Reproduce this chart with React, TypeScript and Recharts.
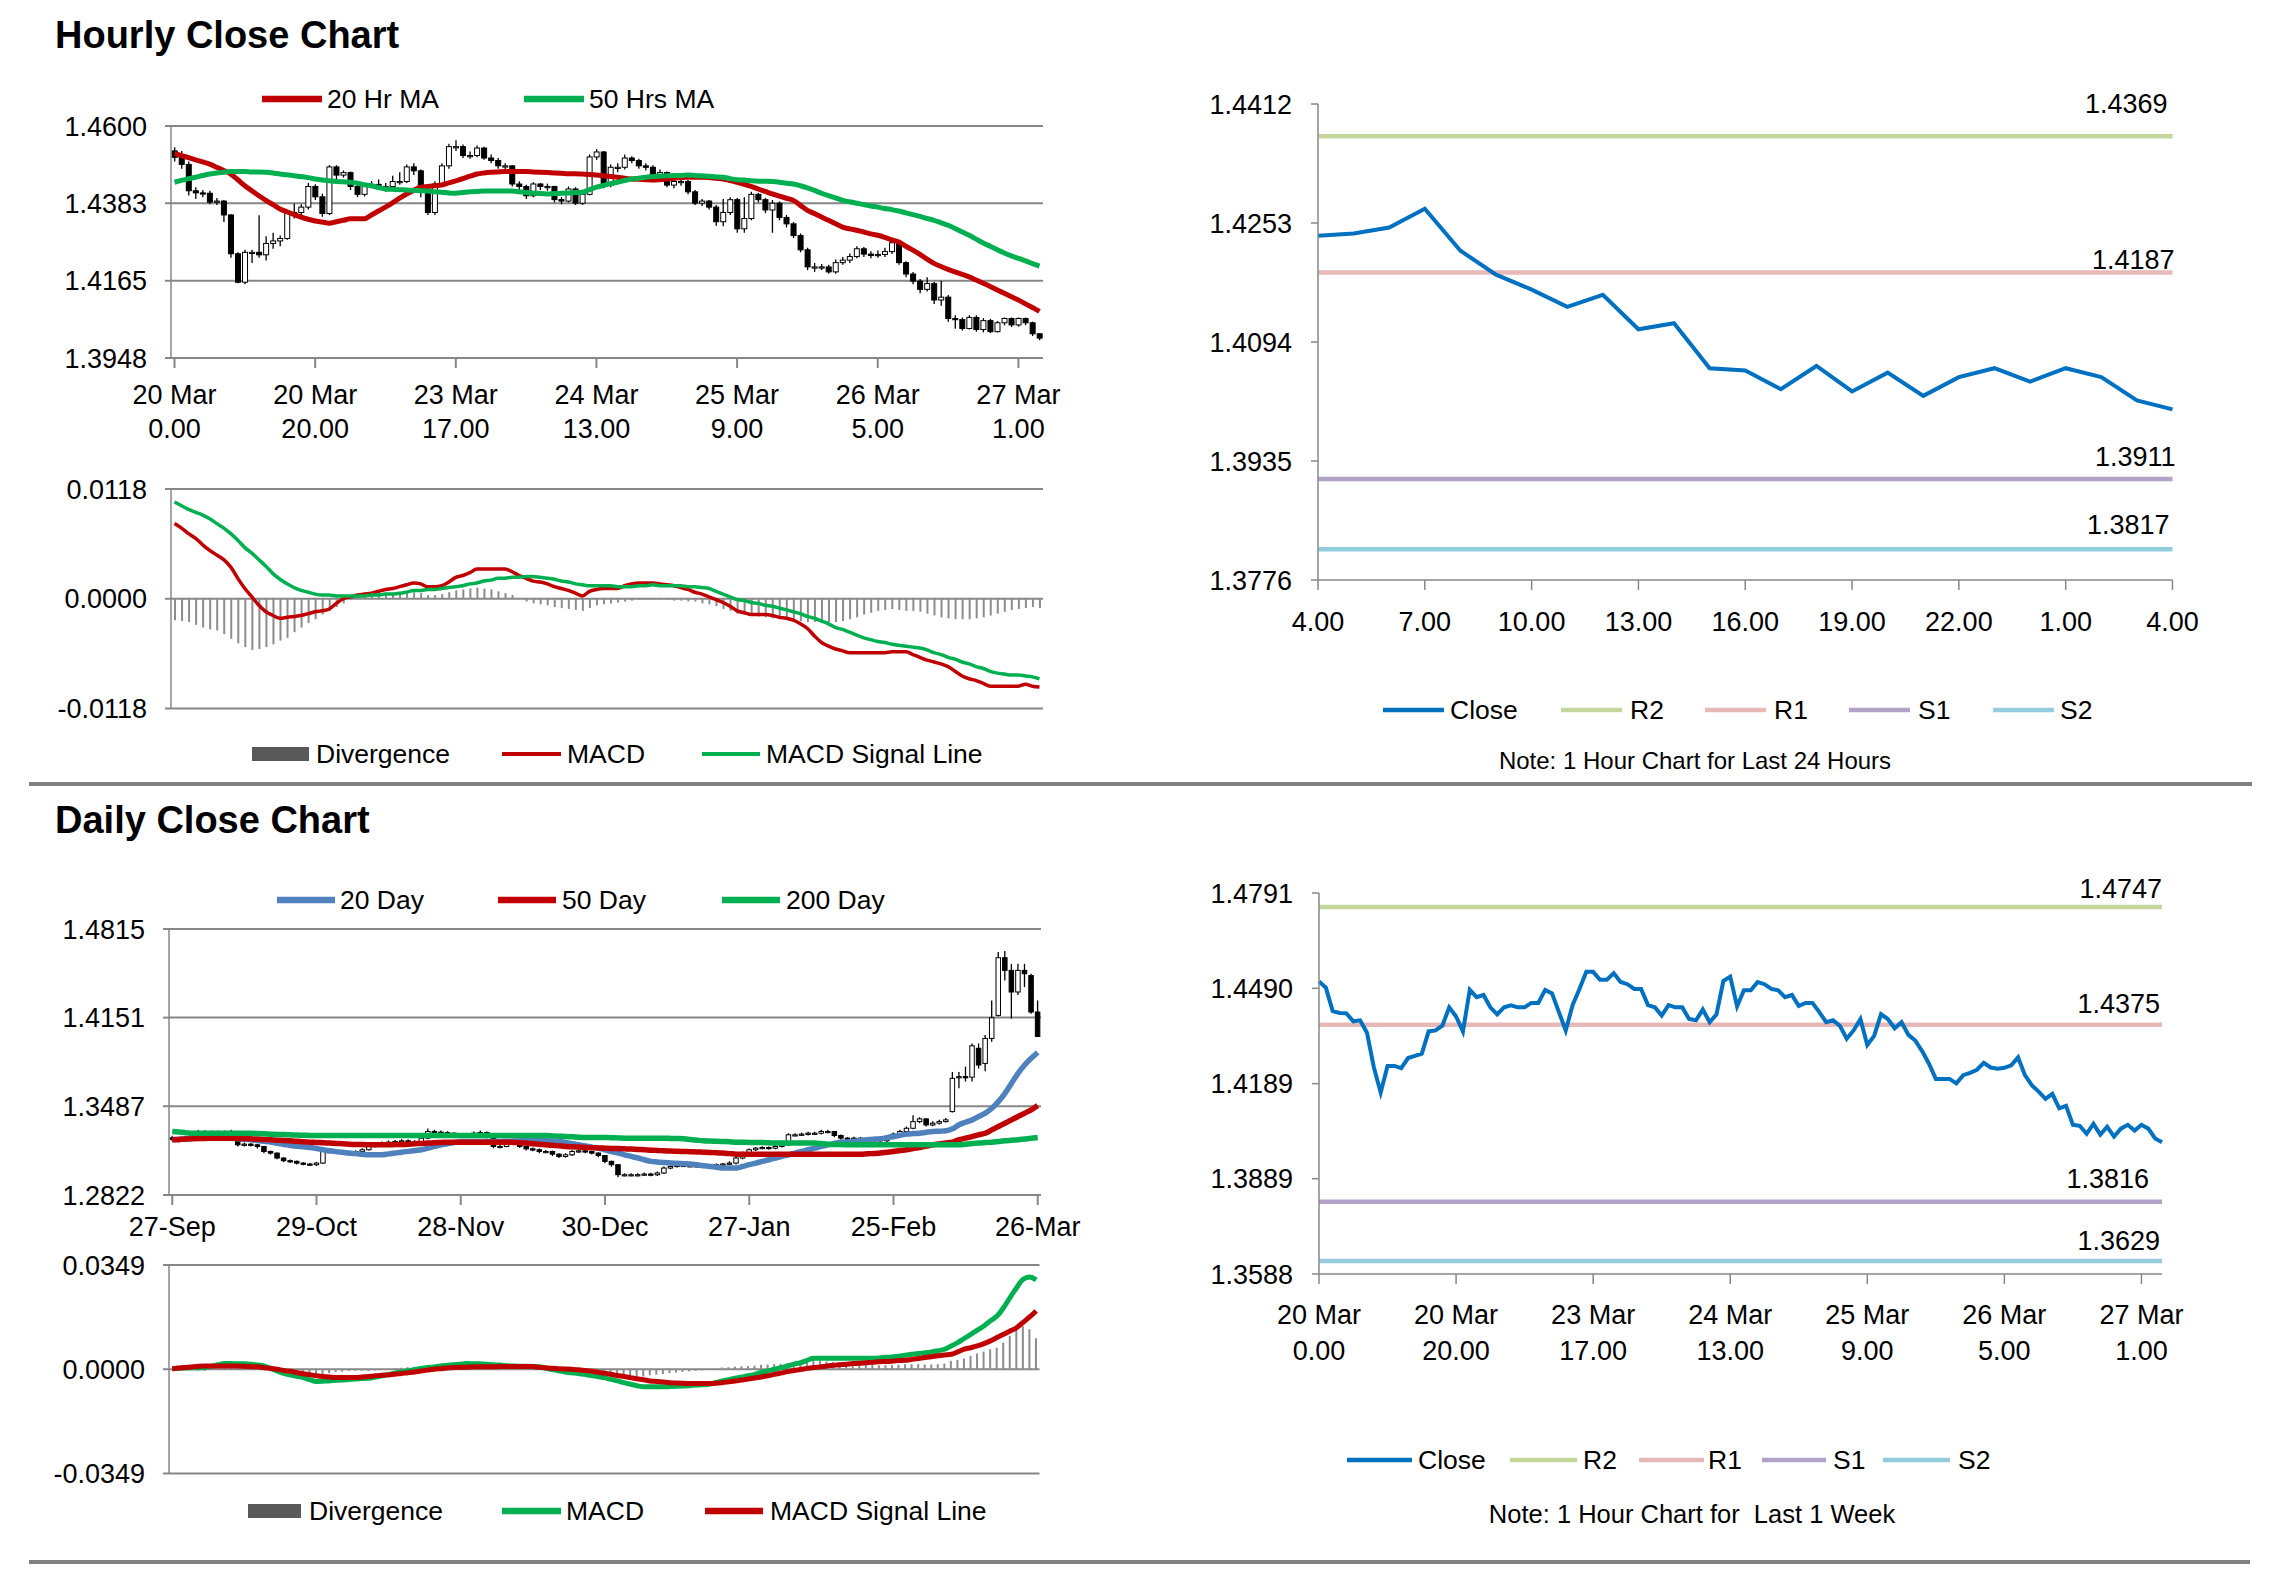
import {
  Bar, CartesianGrid, ComposedChart, Line, LineChart, XAxis, YAxis,
} from "recharts";

const FONT = '"Liberation Sans", Arial, Helvetica, sans-serif';
const GRID = "#878787";
const RED = "#C00000";
const GREEN = "#00B050";
const BLUE = "#4F81BD";
const CLOSE_BLUE = "#0070C0";

// hourly bars, 20 Mar 0.00 -> 27 Mar 4.00
const hourOpen = [
  1.4530, 1.4512, 1.4492, 1.4418, 1.4412, 1.4411, 1.4386, 1.4389, 1.4350, 1.4241,
  1.4161, 1.4245, 1.4245, 1.4238, 1.4270, 1.4277, 1.4284, 1.4354, 1.4357, 1.4372,
  1.4430, 1.4401, 1.4354, 1.4485, 1.4462, 1.4469, 1.4430, 1.4408, 1.4430, 1.4436,
  1.4430, 1.4430, 1.4444, 1.4444, 1.4485, 1.4474, 1.4415, 1.4357, 1.4437, 1.4488,
  1.4542, 1.4542, 1.4517, 1.4517, 1.4538, 1.4510, 1.4503, 1.4488, 1.4488, 1.4437,
  1.4430, 1.4404, 1.4437, 1.4430, 1.4430, 1.4393, 1.4389, 1.4423, 1.4383, 1.4408,
  1.4513, 1.4527, 1.4433, 1.4484, 1.4484, 1.4510, 1.4503, 1.4488, 1.4484, 1.4462,
  1.4469, 1.4434, 1.4444, 1.4444, 1.4415, 1.4383, 1.4389, 1.4372, 1.4331, 1.4357,
  1.4393, 1.4311, 1.4340, 1.4408, 1.4393, 1.4364, 1.4383, 1.4343, 1.4325, 1.4292,
  1.4252, 1.4204, 1.4204, 1.4204, 1.4190, 1.4216, 1.4223, 1.4233, 1.4255, 1.4240,
  1.4236, 1.4239, 1.4247, 1.4272, 1.4216, 1.4184, 1.4164, 1.4141, 1.4157, 1.4111,
  1.4119, 1.4059, 1.4056, 1.4031, 1.4062, 1.4028, 1.4053, 1.4022, 1.4047, 1.4059,
  1.4041, 1.4059, 1.4047, 1.4016,
];
const hourHigh = [
  1.4540, 1.4530, 1.4500, 1.4428, 1.4420, 1.4418, 1.4398, 1.4392, 1.4352, 1.4245,
  1.4252, 1.4252, 1.4349, 1.4290, 1.4300, 1.4292, 1.4360, 1.4382, 1.4380, 1.4440,
  1.4436, 1.4410, 1.4490, 1.4490, 1.4475, 1.4472, 1.4440, 1.4437, 1.4445, 1.4450,
  1.4440, 1.4460, 1.4470, 1.4492, 1.4495, 1.4478, 1.4420, 1.4445, 1.4495, 1.4550,
  1.4560, 1.4548, 1.4528, 1.4545, 1.4542, 1.4520, 1.4510, 1.4495, 1.4490, 1.4445,
  1.4435, 1.4442, 1.4440, 1.4438, 1.4432, 1.4400, 1.4430, 1.4428, 1.4415, 1.4520,
  1.4535, 1.4530, 1.4492, 1.4495, 1.4520, 1.4515, 1.4508, 1.4495, 1.4490, 1.4478,
  1.4472, 1.4450, 1.4452, 1.4448, 1.4420, 1.4395, 1.4392, 1.4378, 1.4395, 1.4400,
  1.4398, 1.4400, 1.4415, 1.4412, 1.4398, 1.4392, 1.4388, 1.4350, 1.4330, 1.4298,
  1.4258, 1.4215, 1.4212, 1.4210, 1.4225, 1.4232, 1.4242, 1.4262, 1.4260, 1.4248,
  1.4250, 1.4258, 1.4280, 1.4275, 1.4220, 1.4190, 1.4170, 1.4175, 1.4162, 1.4165,
  1.4125, 1.4068, 1.4062, 1.4068, 1.4068, 1.4060, 1.4058, 1.4052, 1.4062, 1.4062,
  1.4062, 1.4062, 1.4050, 1.4018,
];
const hourLow = [
  1.4500, 1.4480, 1.4405, 1.4395, 1.4400, 1.4380, 1.4378, 1.4330, 1.4230, 1.4158,
  1.4155, 1.4215, 1.4230, 1.4222, 1.4255, 1.4262, 1.4280, 1.4340, 1.4350, 1.4365,
  1.4392, 1.4345, 1.4350, 1.4450, 1.4455, 1.4420, 1.4400, 1.4402, 1.4425, 1.4420,
  1.4415, 1.4425, 1.4435, 1.4440, 1.4462, 1.4400, 1.4350, 1.4350, 1.4430, 1.4480,
  1.4530, 1.4510, 1.4508, 1.4512, 1.4505, 1.4495, 1.4480, 1.4475, 1.4430, 1.4420,
  1.4395, 1.4400, 1.4420, 1.4418, 1.4385, 1.4380, 1.4385, 1.4378, 1.4378, 1.4405,
  1.4505, 1.4425, 1.4428, 1.4470, 1.4478, 1.4495, 1.4480, 1.4475, 1.4455, 1.4455,
  1.4428, 1.4425, 1.4432, 1.4408, 1.4378, 1.4375, 1.4365, 1.4320, 1.4318, 1.4350,
  1.4300, 1.4300, 1.4335, 1.4385, 1.4355, 1.4300, 1.4335, 1.4315, 1.4285, 1.4245,
  1.4195, 1.4190, 1.4195, 1.4185, 1.4185, 1.4210, 1.4215, 1.4228, 1.4232, 1.4228,
  1.4230, 1.4232, 1.4240, 1.4210, 1.4175, 1.4155, 1.4130, 1.4135, 1.4100, 1.4095,
  1.4050, 1.4030, 1.4025, 1.4028, 1.4022, 1.4020, 1.4018, 1.4020, 1.4040, 1.4035,
  1.4036, 1.4040, 1.4010, 1.3998,
];
const hourClose = [
  1.4512, 1.4492, 1.4418, 1.4412, 1.4411, 1.4386, 1.4389, 1.4350, 1.4241, 1.4161,
  1.4245, 1.4245, 1.4238, 1.4270, 1.4277, 1.4284, 1.4354, 1.4357, 1.4372, 1.4430,
  1.4401, 1.4354, 1.4485, 1.4462, 1.4469, 1.4430, 1.4408, 1.4430, 1.4436, 1.4430,
  1.4430, 1.4444, 1.4444, 1.4485, 1.4474, 1.4415, 1.4357, 1.4437, 1.4488, 1.4542,
  1.4542, 1.4517, 1.4517, 1.4538, 1.4510, 1.4503, 1.4488, 1.4488, 1.4437, 1.4430,
  1.4404, 1.4437, 1.4430, 1.4430, 1.4393, 1.4389, 1.4423, 1.4383, 1.4408, 1.4513,
  1.4527, 1.4433, 1.4484, 1.4484, 1.4510, 1.4503, 1.4488, 1.4484, 1.4462, 1.4469,
  1.4434, 1.4444, 1.4444, 1.4415, 1.4383, 1.4389, 1.4372, 1.4331, 1.4357, 1.4393,
  1.4311, 1.4340, 1.4408, 1.4393, 1.4364, 1.4383, 1.4343, 1.4325, 1.4292, 1.4252,
  1.4204, 1.4204, 1.4204, 1.4190, 1.4216, 1.4223, 1.4233, 1.4255, 1.4240, 1.4236,
  1.4239, 1.4247, 1.4272, 1.4216, 1.4184, 1.4164, 1.4141, 1.4157, 1.4111, 1.4119,
  1.4059, 1.4056, 1.4031, 1.4062, 1.4028, 1.4053, 1.4022, 1.4047, 1.4059, 1.4041,
  1.4059, 1.4047, 1.4016, 1.4004,
];
const hourMa20 = [
  1.4523, 1.4517, 1.4511, 1.4505, 1.4499, 1.4493, 1.4484, 1.4475, 1.4465, 1.4449,
  1.4432, 1.4418, 1.4404, 1.4391, 1.4379, 1.4367, 1.4359, 1.4351, 1.4344, 1.4338,
  1.4333, 1.4330, 1.4327, 1.4331, 1.4335, 1.4339, 1.4339, 1.4339, 1.4350, 1.4361,
  1.4372, 1.4384, 1.4397, 1.4409, 1.4419, 1.4428, 1.4430, 1.4432, 1.4434, 1.4440,
  1.4446, 1.4452, 1.4459, 1.4465, 1.4468, 1.4470, 1.4471, 1.4472, 1.4472, 1.4472,
  1.4472, 1.4471, 1.4470, 1.4469, 1.4468, 1.4467, 1.4466, 1.4466, 1.4465, 1.4464,
  1.4462, 1.4460, 1.4458, 1.4456, 1.4453, 1.4451, 1.4450, 1.4449, 1.4448, 1.4449,
  1.4451, 1.4453, 1.4455, 1.4456, 1.4456, 1.4456, 1.4455, 1.4453, 1.4451, 1.4447,
  1.4442, 1.4436, 1.4430, 1.4423, 1.4416, 1.4409, 1.4403, 1.4397, 1.4391, 1.4377,
  1.4363, 1.4354, 1.4344, 1.4335, 1.4325, 1.4316, 1.4311, 1.4307, 1.4302, 1.4297,
  1.4293, 1.4287, 1.4280, 1.4274, 1.4262, 1.4251, 1.4239, 1.4226, 1.4214, 1.4205,
  1.4197, 1.4190, 1.4183, 1.4176, 1.4167, 1.4158, 1.4149, 1.4139, 1.4130, 1.4120,
  1.4111, 1.4100, 1.4090, 1.4079,
];
const hourMa50 = [
  1.4442, 1.4447, 1.4452, 1.4456, 1.4461, 1.4465, 1.4468, 1.4470, 1.4472, 1.4472,
  1.4472, 1.4471, 1.4471, 1.4470, 1.4468, 1.4465, 1.4463, 1.4460, 1.4458, 1.4455,
  1.4451, 1.4448, 1.4446, 1.4444, 1.4443, 1.4442, 1.4439, 1.4435, 1.4432, 1.4427,
  1.4423, 1.4422, 1.4421, 1.4420, 1.4419, 1.4418, 1.4417, 1.4415, 1.4414, 1.4412,
  1.4411, 1.4413, 1.4415, 1.4416, 1.4417, 1.4417, 1.4417, 1.4417, 1.4417, 1.4415,
  1.4413, 1.4412, 1.4410, 1.4409, 1.4410, 1.4411, 1.4412, 1.4413, 1.4414, 1.4421,
  1.4428, 1.4433, 1.4438, 1.4442, 1.4447, 1.4451, 1.4453, 1.4456, 1.4458, 1.4459,
  1.4460, 1.4461, 1.4461, 1.4462, 1.4461, 1.4460, 1.4459, 1.4457, 1.4456, 1.4452,
  1.4449, 1.4448, 1.4446, 1.4445, 1.4445, 1.4444, 1.4442, 1.4439, 1.4437, 1.4432,
  1.4426, 1.4419, 1.4411, 1.4404, 1.4398, 1.4391, 1.4387, 1.4383, 1.4379, 1.4375,
  1.4372, 1.4368, 1.4365, 1.4361, 1.4356, 1.4351, 1.4346, 1.4340, 1.4335, 1.4328,
  1.4321, 1.4312, 1.4302, 1.4293, 1.4282, 1.4271, 1.4262, 1.4252, 1.4243, 1.4235,
  1.4228, 1.4221, 1.4213, 1.4206,
];
const hourMacd = [
  0.0081, 0.0076, 0.0070, 0.0065, 0.0058, 0.0052, 0.0047, 0.0042, 0.0034, 0.0022,
  0.0011, 0.0002, -0.0007, -0.0014, -0.0018, -0.0021, -0.0020, -0.0019, -0.0018, -0.0016,
  -0.0014, -0.0013, -0.0011, -0.0005, 0.0000, 0.0002, 0.0004, 0.0005, 0.0006, 0.0008,
  0.0010, 0.0011, 0.0013, 0.0015, 0.0017, 0.0016, 0.0013, 0.0013, 0.0014, 0.0018,
  0.0023, 0.0025, 0.0028, 0.0032, 0.0032, 0.0032, 0.0032, 0.0032, 0.0029, 0.0025,
  0.0022, 0.0019, 0.0018, 0.0016, 0.0013, 0.0011, 0.0009, 0.0006, 0.0003, 0.0008,
  0.0010, 0.0011, 0.0011, 0.0011, 0.0014, 0.0016, 0.0017, 0.0017, 0.0017, 0.0016,
  0.0015, 0.0014, 0.0012, 0.0010, 0.0007, 0.0005, 0.0002, -0.0001, -0.0004, -0.0008,
  -0.0013, -0.0015, -0.0017, -0.0017, -0.0017, -0.0018, -0.0020, -0.0021, -0.0023, -0.0027,
  -0.0032, -0.0040, -0.0047, -0.0051, -0.0054, -0.0056, -0.0058, -0.0058, -0.0058, -0.0058,
  -0.0058, -0.0058, -0.0057, -0.0057, -0.0057, -0.0060, -0.0063, -0.0066, -0.0068, -0.0070,
  -0.0073, -0.0078, -0.0083, -0.0086, -0.0088, -0.0091, -0.0094, -0.0094, -0.0094, -0.0094,
  -0.0094, -0.0092, -0.0094, -0.0095,
];
const hourSignal = [
  0.0104, 0.0100, 0.0096, 0.0093, 0.0090, 0.0086, 0.0081, 0.0076, 0.0070, 0.0063,
  0.0055, 0.0049, 0.0042, 0.0035, 0.0027, 0.0021, 0.0016, 0.0012, 0.0009, 0.0007,
  0.0005, 0.0004, 0.0004, 0.0003, 0.0003, 0.0003, 0.0003, 0.0003, 0.0004, 0.0004,
  0.0005, 0.0005, 0.0006, 0.0007, 0.0009, 0.0009, 0.0010, 0.0010, 0.0011, 0.0012,
  0.0013, 0.0014, 0.0016, 0.0017, 0.0019, 0.0020, 0.0022, 0.0022, 0.0023, 0.0023,
  0.0024, 0.0024, 0.0023, 0.0022, 0.0021, 0.0019, 0.0018, 0.0016, 0.0015, 0.0014,
  0.0014, 0.0014, 0.0014, 0.0013, 0.0013, 0.0013, 0.0014, 0.0014, 0.0015, 0.0014,
  0.0014, 0.0014, 0.0014, 0.0013, 0.0013, 0.0012, 0.0011, 0.0008, 0.0005, 0.0002,
  -0.0001, -0.0002, -0.0004, -0.0005, -0.0007, -0.0008, -0.0010, -0.0012, -0.0014, -0.0016,
  -0.0019, -0.0021, -0.0024, -0.0027, -0.0031, -0.0033, -0.0036, -0.0039, -0.0042, -0.0044,
  -0.0046, -0.0047, -0.0049, -0.0050, -0.0051, -0.0052, -0.0053, -0.0055, -0.0058, -0.0060,
  -0.0063, -0.0065, -0.0068, -0.0070, -0.0073, -0.0075, -0.0078, -0.0080, -0.0081, -0.0082,
  -0.0082, -0.0083, -0.0084, -0.0086,
];
const hourDivergence = [
  -0.0023, -0.0024, -0.0025, -0.0028, -0.0031, -0.0033, -0.0034, -0.0038, -0.0043, -0.0048,
  -0.0052, -0.0055, -0.0054, -0.0052, -0.0049, -0.0045, -0.0042, -0.0036, -0.0031, -0.0026,
  -0.0022, -0.0017, -0.0013, -0.0009, -0.0005, -0.0001, 0.0002, 0.0002, 0.0003, 0.0004,
  0.0004, 0.0005, 0.0005, 0.0006, 0.0007, 0.0006, 0.0004, 0.0004, 0.0005, 0.0007,
  0.0009, 0.0010, 0.0011, 0.0012, 0.0011, 0.0010, 0.0008, 0.0006, 0.0004, 0.0001,
  -0.0003, -0.0005, -0.0006, -0.0007, -0.0009, -0.0010, -0.0011, -0.0012, -0.0013, -0.0010,
  -0.0007, -0.0006, -0.0005, -0.0004, -0.0003, -0.0002, -0.0001, -0.0001, -0.0001, -0.0001,
  -0.0001, -0.0002, -0.0002, -0.0003, -0.0003, -0.0005, -0.0006, -0.0008, -0.0011, -0.0013,
  -0.0016, -0.0017, -0.0018, -0.0019, -0.0020, -0.0021, -0.0022, -0.0022, -0.0023, -0.0024,
  -0.0025, -0.0025, -0.0025, -0.0025, -0.0025, -0.0024, -0.0022, -0.0020, -0.0017, -0.0015,
  -0.0013, -0.0012, -0.0011, -0.0012, -0.0013, -0.0013, -0.0014, -0.0016, -0.0018, -0.0020,
  -0.0021, -0.0022, -0.0022, -0.0022, -0.0021, -0.0020, -0.0018, -0.0016, -0.0014, -0.0012,
  -0.0011, -0.0010, -0.0009, -0.0010,
];
const hourTickDays = ["20 Mar", "20 Mar", "23 Mar", "24 Mar", "25 Mar", "26 Mar", "27 Mar"];
const hourTickTimes = ["0.00", "20.00", "17.00", "13.00", "9.00", "5.00", "1.00"];
const hourPriceTicks = [1.3948, 1.4165, 1.4383, 1.46];
const hourMacdTicks = [-0.0118, 0, 0.0118];

// right-hand close charts
const last24Start = 99;
const last24Ticks = ["4.00", "7.00", "10.00", "13.00", "16.00", "19.00", "22.00", "1.00", "4.00"];
const last24PriceTicks = [1.3776, 1.3935, 1.4094, 1.4253, 1.4412];
const last24Levels = [1.4369, 1.4187, 1.3911, 1.3817];
const weekPriceTicks = [1.3588, 1.3889, 1.4189, 1.449, 1.4791];
const weekLevels = [1.4747, 1.4375, 1.3816, 1.3629];
const levelNames = ["R2", "R1", "S1", "S2"];
const levelColors = ["#C3D69B", "#E6B9B8", "#B3A2C7", "#93CDDD"];

// daily bars, 27-Sep -> 26-Mar
const dayOpen = [
  1.3250, 1.3240, 1.3228, 1.3250, 1.3285, 1.3298, 1.3293, 1.3290, 1.3293, 1.3290,
  1.3298, 1.3198, 1.3203, 1.3198, 1.3186, 1.3148, 1.3136, 1.3099, 1.3079, 1.3074,
  1.3061, 1.3054, 1.3049, 1.3061, 1.3148, 1.3148, 1.3143, 1.3136, 1.3128, 1.3148,
  1.3161, 1.3186, 1.3203, 1.3211, 1.3218, 1.3223, 1.3228, 1.3223, 1.3218, 1.3248,
  1.3298, 1.3293, 1.3290, 1.3285, 1.3268, 1.3273, 1.3273, 1.3285, 1.3290, 1.3260,
  1.3186, 1.3186, 1.3218, 1.3218, 1.3186, 1.3168, 1.3161, 1.3148, 1.3148, 1.3128,
  1.3111, 1.3123, 1.3148, 1.3153, 1.3148, 1.3136, 1.3118, 1.3074, 1.3049, 1.2974,
  1.2974, 1.2974, 1.2974, 1.2979, 1.2974, 1.2987, 1.3024, 1.3036, 1.3044, 1.3041,
  1.3041, 1.3036, 1.3036, 1.3041, 1.3049, 1.3054, 1.3061, 1.3099, 1.3136, 1.3161,
  1.3173, 1.3178, 1.3173, 1.3186, 1.3198, 1.3273, 1.3273, 1.3278, 1.3285, 1.3285,
  1.3298, 1.3298, 1.3268, 1.3248, 1.3243, 1.3248, 1.3243, 1.3236, 1.3236, 1.3228,
  1.3248, 1.3278, 1.3298, 1.3322, 1.3372, 1.3392, 1.3347, 1.3360, 1.3372,
  1.3447, 1.3701, 1.3709, 1.3705, 1.3921, 1.3808, 1.3995, 1.4168, 1.4600, 1.4505,
  1.4343, 1.4505, 1.4467, 1.4193,
];
const dayHigh = [
  1.3265, 1.3255, 1.3262, 1.3300, 1.3310, 1.3308, 1.3305, 1.3306, 1.3305, 1.3310,
  1.3300, 1.3215, 1.3212, 1.3205, 1.3190, 1.3155, 1.3140, 1.3105, 1.3088, 1.3080,
  1.3068, 1.3062, 1.3070, 1.3160, 1.3160, 1.3155, 1.3150, 1.3142, 1.3158, 1.3172,
  1.3195, 1.3212, 1.3222, 1.3230, 1.3235, 1.3240, 1.3238, 1.3232, 1.3260, 1.3320,
  1.3310, 1.3305, 1.3300, 1.3292, 1.3285, 1.3285, 1.3298, 1.3305, 1.3298, 1.3265,
  1.3198, 1.3228, 1.3230, 1.3225, 1.3195, 1.3178, 1.3170, 1.3160, 1.3155, 1.3135,
  1.3135, 1.3160, 1.3165, 1.3162, 1.3155, 1.3142, 1.3122, 1.3080, 1.3052, 1.2985,
  1.2985, 1.2985, 1.2990, 1.2988, 1.2998, 1.3035, 1.3045, 1.3055, 1.3052, 1.3050,
  1.3048, 1.3045, 1.3050, 1.3058, 1.3062, 1.3075, 1.3110, 1.3148, 1.3170, 1.3182,
  1.3188, 1.3186, 1.3195, 1.3210, 1.3285, 1.3285, 1.3290, 1.3295, 1.3296, 1.3310,
  1.3310, 1.3302, 1.3275, 1.3256, 1.3258, 1.3256, 1.3252, 1.3248, 1.3245, 1.3258,
  1.3290, 1.3310, 1.3335, 1.3420, 1.3405, 1.3398, 1.3375, 1.3385, 1.3398,
  1.3744, 1.3744, 1.3784, 1.3958, 1.3958, 1.4020, 1.4280, 1.4642, 1.4650, 1.4554,
  1.4554, 1.4554, 1.4480, 1.4280,
];
const dayLow = [
  1.3225, 1.3215, 1.3220, 1.3240, 1.3275, 1.3280, 1.3278, 1.3280, 1.3280, 1.3282,
  1.3185, 1.3185, 1.3185, 1.3170, 1.3135, 1.3125, 1.3090, 1.3068, 1.3062, 1.3050,
  1.3045, 1.3040, 1.3040, 1.3055, 1.3135, 1.3132, 1.3125, 1.3118, 1.3120, 1.3140,
  1.3155, 1.3178, 1.3195, 1.3200, 1.3208, 1.3212, 1.3210, 1.3205, 1.3210, 1.3240,
  1.3282, 1.3278, 1.3272, 1.3255, 1.3258, 1.3260, 1.3265, 1.3275, 1.3248, 1.3172,
  1.3172, 1.3180, 1.3205, 1.3175, 1.3155, 1.3150, 1.3135, 1.3135, 1.3115, 1.3100,
  1.3102, 1.3115, 1.3138, 1.3135, 1.3125, 1.3105, 1.3060, 1.3035, 1.2955, 1.2962,
  1.2962, 1.2962, 1.2965, 1.2962, 1.2965, 1.2980, 1.3015, 1.3028, 1.3032, 1.3032,
  1.3028, 1.3026, 1.3028, 1.3032, 1.3040, 1.3045, 1.3050, 1.3090, 1.3128, 1.3152,
  1.3165, 1.3162, 1.3165, 1.3178, 1.3190, 1.3262, 1.3265, 1.3268, 1.3274, 1.3276,
  1.3285, 1.3256, 1.3236, 1.3232, 1.3232, 1.3230, 1.3225, 1.3225, 1.3216, 1.3220,
  1.3240, 1.3270, 1.3290, 1.3315, 1.3360, 1.3335, 1.3338, 1.3350, 1.3365,
  1.3440, 1.3621, 1.3672, 1.3672, 1.3770, 1.3750, 1.3970, 1.4160, 1.4430, 1.4144,
  1.4320, 1.4380, 1.4180, 1.4007,
];
const dayClose = [
  1.3240, 1.3228, 1.3250, 1.3285, 1.3298, 1.3293, 1.3290, 1.3293, 1.3290, 1.3298,
  1.3198, 1.3203, 1.3198, 1.3186, 1.3148, 1.3136, 1.3099, 1.3079, 1.3074, 1.3061,
  1.3054, 1.3049, 1.3061, 1.3148, 1.3148, 1.3143, 1.3136, 1.3128, 1.3148, 1.3161,
  1.3186, 1.3203, 1.3211, 1.3218, 1.3223, 1.3228, 1.3223, 1.3218, 1.3248, 1.3298,
  1.3293, 1.3290, 1.3285, 1.3268, 1.3273, 1.3273, 1.3285, 1.3290, 1.3260, 1.3186,
  1.3186, 1.3218, 1.3218, 1.3186, 1.3168, 1.3161, 1.3148, 1.3148, 1.3128, 1.3111,
  1.3123, 1.3148, 1.3153, 1.3148, 1.3136, 1.3118, 1.3074, 1.3049, 1.2974, 1.2974,
  1.2974, 1.2974, 1.2979, 1.2974, 1.2987, 1.3024, 1.3036, 1.3044, 1.3041, 1.3041,
  1.3036, 1.3036, 1.3041, 1.3049, 1.3054, 1.3061, 1.3099, 1.3136, 1.3161, 1.3173,
  1.3178, 1.3173, 1.3186, 1.3198, 1.3273, 1.3273, 1.3278, 1.3285, 1.3285, 1.3298,
  1.3298, 1.3268, 1.3248, 1.3243, 1.3248, 1.3243, 1.3236, 1.3236, 1.3228, 1.3248,
  1.3278, 1.3298, 1.3322, 1.3372, 1.3392, 1.3347, 1.3360, 1.3372, 1.3385,
  1.3696, 1.3709, 1.3705, 1.3940, 1.3796, 1.3995, 1.4150, 1.4600, 1.4505, 1.4343,
  1.4505, 1.4480, 1.4193, 1.4010,
];
const dayMa20 = [
  1.3236, 1.3240, 1.3244, 1.3248, 1.3252, 1.3256, 1.3260, 1.3256, 1.3252, 1.3248,
  1.3244, 1.3240, 1.3236, 1.3230, 1.3224, 1.3218, 1.3210, 1.3201, 1.3193, 1.3188,
  1.3183, 1.3178, 1.3170, 1.3161, 1.3153, 1.3147, 1.3142, 1.3136, 1.3132, 1.3127,
  1.3123, 1.3123, 1.3123, 1.3130, 1.3136, 1.3143, 1.3149, 1.3155, 1.3161, 1.3173,
  1.3186, 1.3198, 1.3206, 1.3215, 1.3223, 1.3223, 1.3223, 1.3223, 1.3223, 1.3223,
  1.3223, 1.3225, 1.3226, 1.3228, 1.3231, 1.3233, 1.3236, 1.3232, 1.3227, 1.3223,
  1.3215, 1.3206, 1.3198, 1.3190, 1.3181, 1.3173, 1.3160, 1.3148, 1.3136, 1.3123,
  1.3111, 1.3099, 1.3086, 1.3074, 1.3070, 1.3065, 1.3061, 1.3059, 1.3056, 1.3054,
  1.3048, 1.3042, 1.3036, 1.3030, 1.3024, 1.3024, 1.3024, 1.3036, 1.3049, 1.3061,
  1.3074, 1.3086, 1.3099, 1.3111, 1.3123, 1.3136, 1.3148, 1.3161, 1.3173, 1.3186,
  1.3198, 1.3208, 1.3218, 1.3220, 1.3223, 1.3230, 1.3236, 1.3240, 1.3243, 1.3252,
  1.3260, 1.3269, 1.3278, 1.3282, 1.3285, 1.3292, 1.3298, 1.3300, 1.3303, 1.3318,
  1.3348, 1.3367, 1.3385, 1.3410, 1.3435, 1.3472, 1.3522, 1.3584, 1.3659, 1.3734,
  1.3796, 1.3846, 1.3890,
];
const dayMa50 = [
  1.3236, 1.3238, 1.3241, 1.3243, 1.3245, 1.3246, 1.3248, 1.3248, 1.3248, 1.3248,
  1.3246, 1.3245, 1.3243, 1.3241, 1.3238, 1.3236, 1.3233, 1.3231, 1.3228, 1.3225,
  1.3221, 1.3218, 1.3216, 1.3213, 1.3211, 1.3208, 1.3206, 1.3203, 1.3201, 1.3200,
  1.3198, 1.3198, 1.3198, 1.3198, 1.3200, 1.3201, 1.3203, 1.3206, 1.3208, 1.3211,
  1.3213, 1.3216, 1.3218, 1.3218, 1.3218, 1.3218, 1.3218, 1.3218, 1.3218, 1.3218,
  1.3218, 1.3218, 1.3216, 1.3213, 1.3211, 1.3206, 1.3203, 1.3198, 1.3194, 1.3190,
  1.3186, 1.3183, 1.3181, 1.3178, 1.3176, 1.3175, 1.3173, 1.3171, 1.3170, 1.3168,
  1.3166, 1.3163, 1.3161, 1.3158, 1.3156, 1.3153, 1.3151, 1.3150, 1.3148, 1.3146,
  1.3145, 1.3143, 1.3141, 1.3138, 1.3136, 1.3132, 1.3128, 1.3128, 1.3128, 1.3128,
  1.3128, 1.3128, 1.3128, 1.3128, 1.3128, 1.3128, 1.3128, 1.3128, 1.3128, 1.3128,
  1.3128, 1.3128, 1.3128, 1.3128, 1.3128, 1.3128, 1.3131, 1.3133, 1.3136, 1.3142,
  1.3148, 1.3155, 1.3161, 1.3170, 1.3178, 1.3188, 1.3198, 1.3205, 1.3211, 1.3218,
  1.3236, 1.3248, 1.3260, 1.3273, 1.3285, 1.3310, 1.3335, 1.3360, 1.3385, 1.3410,
  1.3435, 1.3460, 1.3492,
];
const dayMa200 = [
  1.3298, 1.3294, 1.3289, 1.3285, 1.3285, 1.3285, 1.3285, 1.3285, 1.3285, 1.3285,
  1.3285, 1.3285, 1.3285, 1.3282, 1.3280, 1.3278, 1.3276, 1.3275, 1.3273, 1.3271,
  1.3270, 1.3268, 1.3268, 1.3268, 1.3268, 1.3268, 1.3268, 1.3268, 1.3268, 1.3268,
  1.3268, 1.3268, 1.3268, 1.3268, 1.3268, 1.3268, 1.3268, 1.3268, 1.3268, 1.3268,
  1.3268, 1.3268, 1.3268, 1.3268, 1.3268, 1.3268, 1.3268, 1.3268, 1.3268, 1.3268,
  1.3268, 1.3268, 1.3268, 1.3268, 1.3268, 1.3268, 1.3268, 1.3268, 1.3265, 1.3263,
  1.3260, 1.3258, 1.3255, 1.3253, 1.3253, 1.3253, 1.3253, 1.3251, 1.3250, 1.3248,
  1.3248, 1.3248, 1.3248, 1.3248, 1.3248, 1.3248, 1.3246, 1.3245, 1.3243, 1.3238,
  1.3233, 1.3228, 1.3226, 1.3225, 1.3223, 1.3221, 1.3218, 1.3217, 1.3216, 1.3216,
  1.3215, 1.3213, 1.3211, 1.3211, 1.3211, 1.3211, 1.3211, 1.3211, 1.3211, 1.3207,
  1.3203, 1.3201, 1.3200, 1.3198, 1.3198, 1.3198, 1.3198, 1.3198, 1.3198, 1.3198,
  1.3198, 1.3198, 1.3198, 1.3198, 1.3198, 1.3198, 1.3198, 1.3198, 1.3198, 1.3198,
  1.3198, 1.3203, 1.3207, 1.3211, 1.3215, 1.3218, 1.3223, 1.3228, 1.3232, 1.3236,
  1.3242, 1.3248, 1.3253,
];
const dayMacd = [
  0.0002, 0.0003, 0.0004, 0.0005, 0.0005, 0.0006, 0.0010, 0.0015, 0.0019, 0.0019,
  0.0018, 0.0018, 0.0017, 0.0014, 0.0011, 0.0003, -0.0006, -0.0014, -0.0019, -0.0024,
  -0.0028, -0.0035, -0.0041, -0.0040, -0.0039, -0.0037, -0.0036, -0.0034, -0.0033, -0.0031,
  -0.0030, -0.0026, -0.0022, -0.0018, -0.0013, -0.0009, -0.0005, -0.0001, 0.0003, 0.0006,
  0.0008, 0.0011, 0.0013, 0.0015, 0.0017, 0.0019, 0.0018, 0.0018, 0.0017, 0.0015,
  0.0014, 0.0012, 0.0011, 0.0010, 0.0010, 0.0009, 0.0008, 0.0004, -0.0001, -0.0005,
  -0.0009, -0.0012, -0.0014, -0.0017, -0.0021, -0.0024, -0.0028, -0.0034, -0.0039, -0.0045,
  -0.0050, -0.0055, -0.0059, -0.0059, -0.0059, -0.0059, -0.0058, -0.0057, -0.0056, -0.0055,
  -0.0053, -0.0052, -0.0050, -0.0045, -0.0039, -0.0035, -0.0030, -0.0026, -0.0022, -0.0017,
  -0.0011, -0.0006, 0.0000, 0.0005, 0.0011, 0.0017, 0.0022, 0.0030, 0.0037, 0.0037,
  0.0037, 0.0037, 0.0037, 0.0037, 0.0037, 0.0037, 0.0037, 0.0037, 0.0038, 0.0040,
  0.0041, 0.0044, 0.0047, 0.0050, 0.0053, 0.0055, 0.0058, 0.0062, 0.0067, 0.0078,
  0.0089, 0.0103, 0.0117, 0.0131, 0.0145, 0.0162, 0.0178, 0.0206, 0.0240, 0.0273,
  0.0301, 0.0309, 0.0299,
];
const daySignal = [
  0.0002, 0.0004, 0.0006, 0.0008, 0.0010, 0.0011, 0.0011, 0.0011, 0.0011, 0.0011,
  0.0011, 0.0010, 0.0009, 0.0008, 0.0005, 0.0003, 0.0000, -0.0004, -0.0007, -0.0011,
  -0.0015, -0.0018, -0.0022, -0.0024, -0.0026, -0.0028, -0.0028, -0.0028, -0.0028, -0.0026,
  -0.0024, -0.0022, -0.0020, -0.0019, -0.0017, -0.0014, -0.0012, -0.0009, -0.0006, -0.0003,
  0.0000, 0.0002, 0.0004, 0.0006, 0.0007, 0.0007, 0.0008, 0.0008, 0.0008, 0.0008,
  0.0009, 0.0009, 0.0009, 0.0009, 0.0009, 0.0009, 0.0007, 0.0005, 0.0003, 0.0002,
  0.0001, 0.0000, -0.0002, -0.0004, -0.0006, -0.0010, -0.0013, -0.0017, -0.0021, -0.0024,
  -0.0028, -0.0032, -0.0035, -0.0039, -0.0041, -0.0043, -0.0045, -0.0046, -0.0047, -0.0048,
  -0.0048, -0.0048, -0.0048, -0.0047, -0.0045, -0.0042, -0.0039, -0.0036, -0.0033, -0.0029,
  -0.0026, -0.0022, -0.0017, -0.0013, -0.0008, -0.0004, -0.0001, 0.0003, 0.0006, 0.0008,
  0.0011, 0.0013, 0.0015, 0.0017, 0.0019, 0.0020, 0.0022, 0.0023, 0.0025, 0.0026,
  0.0027, 0.0029, 0.0030, 0.0033, 0.0036, 0.0039, 0.0042, 0.0045, 0.0048, 0.0050,
  0.0058, 0.0067, 0.0072, 0.0078, 0.0086, 0.0095, 0.0106, 0.0117, 0.0128, 0.0139,
  0.0157, 0.0175, 0.0195,
];
const dayDivergence = [
  0.0000, -0.0001, -0.0002, -0.0003, -0.0005, -0.0005, -0.0001, 0.0004, 0.0008, 0.0008,
  0.0007, 0.0008, 0.0008, 0.0006, 0.0006, 0.0000, -0.0006, -0.0010, -0.0012, -0.0013,
  -0.0013, -0.0017, -0.0019, -0.0016, -0.0013, -0.0009, -0.0008, -0.0006, -0.0005, -0.0005,
  -0.0006, -0.0004, -0.0002, 0.0001, 0.0004, 0.0005, 0.0007, 0.0008, 0.0009, 0.0009,
  0.0008, 0.0009, 0.0009, 0.0009, 0.0010, 0.0012, 0.0010, 0.0010, 0.0009, 0.0007,
  0.0005, 0.0003, 0.0002, 0.0001, 0.0001, 0.0000, 0.0001, -0.0001, -0.0004, -0.0007,
  -0.0010, -0.0012, -0.0012, -0.0013, -0.0015, -0.0014, -0.0015, -0.0017, -0.0018, -0.0021,
  -0.0022, -0.0023, -0.0024, -0.0020, -0.0018, -0.0016, -0.0013, -0.0011, -0.0009, -0.0007,
  -0.0005, -0.0004, -0.0002, 0.0002, 0.0006, 0.0007, 0.0009, 0.0010, 0.0011, 0.0012,
  0.0015, 0.0016, 0.0017, 0.0018, 0.0019, 0.0021, 0.0023, 0.0027, 0.0031, 0.0029,
  0.0026, 0.0024, 0.0022, 0.0020, 0.0018, 0.0017, 0.0015, 0.0014, 0.0013, 0.0014,
  0.0014, 0.0015, 0.0017, 0.0017, 0.0017, 0.0016, 0.0016, 0.0017, 0.0019, 0.0028,
  0.0031, 0.0036, 0.0045, 0.0053, 0.0059, 0.0067, 0.0072, 0.0089, 0.0112, 0.0134,
  0.0144, 0.0134, 0.0104,
];
const dayTickLabels = ["27-Sep", "29-Oct", "28-Nov", "30-Dec", "27-Jan", "25-Feb", "26-Mar"];
const dayPriceTicks = [1.2822, 1.3487, 1.4151, 1.4815];
const dayMacdTicks = [-0.0349, 0, 0.0349];

const hourRows = hourClose.map((c, i) => ({
  t: i, o: hourOpen[i], h: hourHigh[i], l: hourLow[i], c,
  range: [hourLow[i], hourHigh[i]],
  ma20: hourMa20[i], ma50: hourMa50[i],
  macd: hourMacd[i], sig: hourSignal[i], div: hourDivergence[i],
  R2: weekLevels[0], R1: weekLevels[1], S1: weekLevels[2], S2: weekLevels[3],
}));
const last24Rows = hourClose.slice(last24Start).map((c, i) => ({
  t: i, c,
  R2: last24Levels[0], R1: last24Levels[1], S1: last24Levels[2], S2: last24Levels[3],
}));
const dayRows = dayClose.map((c, i) => ({
  t: i, o: dayOpen[i], h: dayHigh[i], l: dayLow[i], c,
  range: [dayLow[i], dayHigh[i]],
  ma20: dayMa20[i], ma50: dayMa50[i], ma200: dayMa200[i],
  macd: dayMacd[i], sig: daySignal[i], div: dayDivergence[i],
}));

type Box = { left: number; top: number; right: number; bottom: number };
const M = { top: 20, right: 60, bottom: 30, left: 0 };
const place = (b: Box, yW: number, xH: number) => ({
  style: { position: "absolute" as const, left: b.left - yW, top: b.top - M.top },
  width: yW + (b.right - b.left) + M.right,
  height: M.top + (b.bottom - b.top) + xH + M.bottom,
});

const HOUR_BOX = { left: 171, top: 126, right: 1043, bottom: 358 };
const HMACD_BOX = { left: 171, top: 488.5, right: 1043, bottom: 708 };
const L24_BOX = { left: 1317.5, top: 104, right: 2172, bottom: 580 };
const DAY_BOX = { left: 168.5, top: 929, right: 1040.5, bottom: 1195 };
const DMACD_BOX = { left: 168.5, top: 1264.5, right: 1039, bottom: 1473 };
const WEEK_BOX = { left: 1319, top: 892.5, right: 2162, bottom: 1273.5 };

const YW = 160;
const tickFont = { fill: "#000", fontSize: 27, fontFamily: FONT };
const gridLine = { stroke: GRID, strokeWidth: 2 };
const fmt4 = (v: number) => Number(v).toFixed(4);

const makeCandle = (bodyW: number) => (props: any) => {
  const { x, y, width, height, payload } = props;
  if (!payload || height == null || isNaN(y)) return <g />;
  const top = Math.min(y, y + height);
  const span = Math.abs(height);
  const { o, h, l, c } = payload;
  const k = h > l ? span / (h - l) : 0;
  const py = (v: number) => top + (h - v) * k;
  const cx = x + width / 2;
  const y1 = py(Math.max(o, c));
  const y2 = py(Math.min(o, c));
  return (
    <g>
      <line x1={cx} x2={cx} y1={top} y2={top + span} stroke="#000" strokeWidth={1.3} />
      <rect x={cx - bodyW / 2} y={y1} width={bodyW} height={Math.max(y2 - y1, 1.2)}
        fill={c >= o ? "#fff" : "#000"} stroke="#000" strokeWidth={1} />
    </g>
  );
};

const twoLineTick = (dy1: number, dy2: number) => (p: any) => {
  const k = Math.round(Number(p.payload.value) / 20);
  return (
    <text x={p.x} y={p.y} textAnchor="middle" {...tickFont}>
      <tspan x={p.x} dy={dy1}>{hourTickDays[k]}</tspan>
      <tspan x={p.x} dy={dy2}>{hourTickTimes[k]}</tspan>
    </text>
  );
};

const levelLabel = (lastIndex: number, dx: number, dy: number) => (p: any) => {
  if (p.index !== lastIndex) return null;
  const x = p.x ?? p.viewBox?.x;
  const y = p.y ?? p.viewBox?.y;
  return (
    <text x={x + dx} y={y + dy} textAnchor="end" dominantBaseline="central" {...tickFont}>
      {fmt4(p.value)}
    </text>
  );
};

type LegendItem = { label: string; color: string; x0: number; x1: number; tx: number; block?: boolean; w?: number };
function LegendRow({ y, items }: { y: number; items: LegendItem[] }) {
  return (
    <g>
      {items.map((it) => (
        <g key={it.label}>
          {it.block ? (
            <rect x={it.x0} y={y - 7} width={it.x1 - it.x0} height={14} fill={it.color} />
          ) : (
            <line x1={it.x0} x2={it.x1} y1={y} y2={y} stroke={it.color} strokeWidth={it.w ?? 5} />
          )}
          <text x={it.tx} y={y} dominantBaseline="central" fontSize={26.5} fontFamily={FONT} fill="#000">
            {it.label}
          </text>
        </g>
      ))}
    </g>
  );
}

function HourlyCandles() {
  const p = place(HOUR_BOX, YW, 90);
  return (
    <div style={p.style}>
      <ComposedChart width={p.width} height={p.height} data={hourRows} margin={M}>
        <CartesianGrid vertical={false} {...gridLine} />
        <XAxis dataKey="t" interval={19} height={90} tickSize={10} tickMargin={0}
          axisLine={gridLine} tickLine={gridLine} tick={twoLineTick(36, 33.5)} />
        <YAxis width={YW} domain={[1.3948, 1.46]} ticks={hourPriceTicks} interval={0}
          tickSize={6} tickMargin={18} tickFormatter={fmt4} tick={tickFont}
          axisLine={{ stroke: GRID, strokeWidth: 1.5 }} tickLine={gridLine} />
        <Bar dataKey="range" shape={makeCandle(5)} isAnimationActive={false} />
        <Line dataKey="ma20" type="monotone" stroke={RED} strokeWidth={5} dot={false} activeDot={false} isAnimationActive={false} />
        <Line dataKey="ma50" type="monotone" stroke={GREEN} strokeWidth={5} dot={false} activeDot={false} isAnimationActive={false} />
      </ComposedChart>
    </div>
  );
}

function MacdPanel({ box, rows, ticks, macdColor, sigColor, width }: any) {
  const p = place(box, YW, 0);
  return (
    <div style={p.style}>
      <ComposedChart width={p.width} height={p.height} data={rows} margin={M}>
        <CartesianGrid vertical={false} {...gridLine} />
        <XAxis dataKey="t" hide />
        <YAxis width={YW} domain={[ticks[0], ticks[2]]} ticks={ticks} interval={0}
          tickSize={6} tickMargin={18} tickFormatter={fmt4} tick={tickFont}
          axisLine={{ stroke: GRID, strokeWidth: 1.5 }} tickLine={gridLine} />
        <Bar dataKey="div" fill="#8C8C8C" barSize={2} isAnimationActive={false} />
        <Line dataKey="macd" type="monotone" stroke={macdColor} strokeWidth={width} dot={false} activeDot={false} isAnimationActive={false} />
        <Line dataKey="sig" type="monotone" stroke={sigColor} strokeWidth={width} dot={false} activeDot={false} isAnimationActive={false} />
      </ComposedChart>
    </div>
  );
}

function LevelChart({ box, rows, dataTicks, interval, tick, xH, offsets }: any) {
  const p = place(box, YW, xH);
  const last = rows.length - 1;
  return (
    <div style={p.style}>
      <LineChart width={p.width} height={p.height} data={rows} margin={M}>
        <XAxis dataKey="t" interval={interval} height={xH} tickSize={10} tickMargin={0}
          axisLine={{ stroke: GRID, strokeWidth: 1.5 }} tickLine={{ stroke: GRID, strokeWidth: 1.5 }} tick={tick} />
        <YAxis width={YW} domain={[dataTicks[0], dataTicks[dataTicks.length - 1]]} ticks={dataTicks} interval={0}
          tickSize={7} tickMargin={19} tickFormatter={fmt4} tick={tickFont}
          axisLine={{ stroke: GRID, strokeWidth: 1.5 }} tickLine={{ stroke: GRID, strokeWidth: 1.5 }} />
        {levelNames.map((name, k) => (
          <Line key={name} dataKey={name} stroke={levelColors[k]} strokeWidth={4.5} dot={false} activeDot={false}
            isAnimationActive={false} label={levelLabel(last, offsets[k][0], offsets[k][1])} />
        ))}
        <Line dataKey="c" stroke={CLOSE_BLUE} strokeWidth={4} dot={false} activeDot={false} isAnimationActive={false} />
      </LineChart>
    </div>
  );
}

function DailyCandles() {
  const p = place(DAY_BOX, YW, 60);
  return (
    <div style={p.style}>
      <ComposedChart width={p.width} height={p.height} data={dayRows} margin={M}>
        <CartesianGrid vertical={false} {...gridLine} />
        <XAxis dataKey="t" interval={21} height={60} tickSize={10} tickMargin={0}
          axisLine={gridLine} tickLine={gridLine}
          tick={(q: any) => (
            <text x={q.x} y={q.y} dy={30.5} textAnchor="middle" {...tickFont}>
              {dayTickLabels[Math.round(Number(q.payload.value) / 22)]}
            </text>
          )} />
        <YAxis width={YW} domain={[1.2822, 1.4815]} ticks={dayPriceTicks} interval={0}
          tickSize={6} tickMargin={18} tickFormatter={fmt4} tick={tickFont}
          axisLine={{ stroke: GRID, strokeWidth: 1.5 }} tickLine={gridLine} />
        <Bar dataKey="range" shape={makeCandle(4.5)} isAnimationActive={false} />
        <Line dataKey="ma20" type="monotone" stroke={BLUE} strokeWidth={5.5} dot={false} activeDot={false} isAnimationActive={false} />
        <Line dataKey="ma50" type="monotone" stroke={RED} strokeWidth={5.5} dot={false} activeDot={false} isAnimationActive={false} />
        <Line dataKey="ma200" type="monotone" stroke={GREEN} strokeWidth={5.5} dot={false} activeDot={false} isAnimationActive={false} />
      </ComposedChart>
    </div>
  );
}

export default function App() {
  const levelLegend = (x: number[][]) =>
    ["Close", ...levelNames].map((label, k) => ({
      label, color: k === 0 ? CLOSE_BLUE : levelColors[k - 1], x0: x[k][0], x1: x[k][1], tx: x[k][2], w: 4.5,
    }));
  return (
    <div style={{ position: "absolute", left: 0, top: 0, width: 2281, height: 1570, background: "#fff", overflow: "hidden" }}>
      <svg width={2281} height={1570} style={{ position: "absolute", left: 0, top: 0 }}>
        <text x={55} y={35} dominantBaseline="central" fontSize={38} fontWeight="bold" fontFamily={FONT}>Hourly Close Chart</text>
        <text x={55} y={820} dominantBaseline="central" fontSize={38} fontWeight="bold" fontFamily={FONT}>Daily Close Chart</text>
        <line x1={29} x2={2252} y1={784} y2={784} stroke="#808080" strokeWidth={4} />
        <line x1={29} x2={2250} y1={1562} y2={1562} stroke="#808080" strokeWidth={4} />
        <LegendRow y={99} items={[
          { label: "20 Hr MA", color: RED, x0: 262, x1: 322, tx: 327, w: 6.5 },
          { label: "50 Hrs MA", color: GREEN, x0: 524, x1: 584, tx: 589, w: 6.5 },
        ]} />
        <LegendRow y={754} items={[
          { label: "Divergence", color: "#595959", x0: 252, x1: 309, tx: 316, block: true },
          { label: "MACD", color: RED, x0: 502, x1: 561, tx: 567, w: 4 },
          { label: "MACD Signal Line", color: GREEN, x0: 702, x1: 760, tx: 766, w: 4 },
        ]} />
        <LegendRow y={710} items={levelLegend([[1383, 1444, 1450], [1561, 1622, 1630], [1705, 1766, 1774], [1849, 1910, 1918], [1993, 2054, 2060]])} />
        <text x={1695} y={760} textAnchor="middle" dominantBaseline="central" fontSize={24} fontFamily={FONT}>Note: 1 Hour Chart for Last 24 Hours</text>
        <LegendRow y={900} items={[
          { label: "20 Day", color: BLUE, x0: 277, x1: 335, tx: 340, w: 6.5 },
          { label: "50 Day", color: RED, x0: 498, x1: 556, tx: 562, w: 6.5 },
          { label: "200 Day", color: GREEN, x0: 722, x1: 780, tx: 786, w: 6.5 },
        ]} />
        <LegendRow y={1511} items={[
          { label: "Divergence", color: "#595959", x0: 248, x1: 301, tx: 309, block: true },
          { label: "MACD", color: GREEN, x0: 502, x1: 561, tx: 566, w: 6.5 },
          { label: "MACD Signal Line", color: RED, x0: 705, x1: 763, tx: 770, w: 6.5 },
        ]} />
        <LegendRow y={1460} items={levelLegend([[1347, 1412, 1418], [1510, 1577, 1583], [1639, 1704, 1708], [1762, 1826, 1833], [1883, 1950, 1958]])} />
        <text x={1692} y={1514} textAnchor="middle" dominantBaseline="central" fontSize={25.5} fontFamily={FONT} style={{ whiteSpace: "pre" }}>Note: 1 Hour Chart for  Last 1 Week</text>
      </svg>

      <HourlyCandles />
      <MacdPanel box={HMACD_BOX} rows={hourRows} ticks={hourMacdTicks} macdColor={RED} sigColor={GREEN} width={3.5} />
      <LevelChart box={L24_BOX} rows={last24Rows} dataTicks={last24PriceTicks} interval={2} xH={60}
        tick={(q: any) => (
          <text x={q.x} y={q.y} dy={41} textAnchor="middle" {...tickFont}>
            {last24Ticks[Math.round(Number(q.payload.value) / 3)]}
          </text>
        )}
        offsets={[[-5, -32], [2, -12], [3, -22], [-3, -24]]} />
      <DailyCandles />
      <MacdPanel box={DMACD_BOX} rows={dayRows} ticks={dayMacdTicks} macdColor={GREEN} sigColor={RED} width={5} />
      <LevelChart box={WEEK_BOX} rows={hourRows} dataTicks={weekPriceTicks} interval={19} xH={90}
        tick={twoLineTick(39.5, 36.5)}
        offsets={[[0, -18], [-2, -21], [-13, -23], [-2, -20]]} />
    </div>
  );
}
